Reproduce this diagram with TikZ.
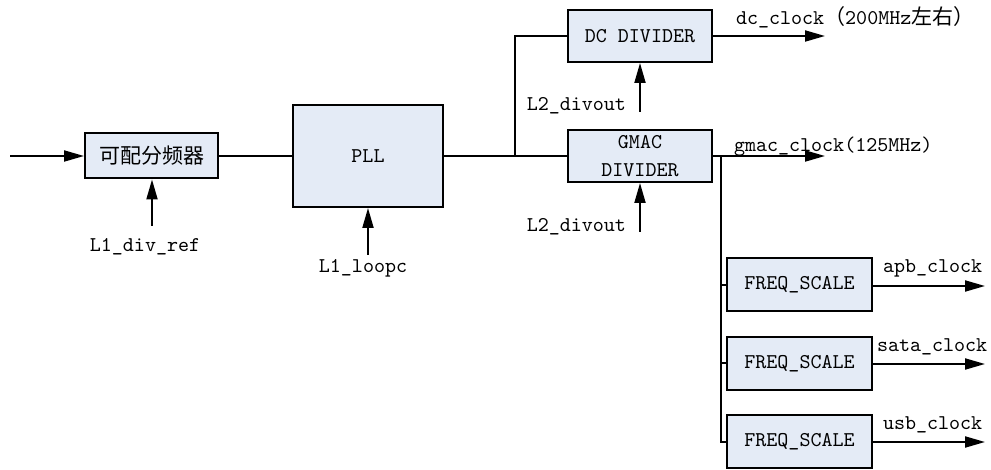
\documentclass[tikz,border=0pt]{standalone}
\usepackage{fontspec}
\newfontfamily\cjk{Noto Sans CJK SC}
\usetikzlibrary{arrows.meta,positioning}
\definecolor{boxfill}{RGB}{228,235,246}

\begin{document}
\begin{tikzpicture}[x=0.5pt, y=-0.5pt, line width=1pt,
			font=\fontsize{10.5}{14}\selectfont\ttfamily,
			block/.style={rectangle, draw, fill=boxfill, inner sep=0pt, align=center},
			fsblock/.style={block, minimum width=72.5pt, minimum height=26.5pt},
			arrow/.style={-{Triangle[length=10pt,width=5.5pt]}},
			lbl/.style={inner sep=0pt}]

			\useasboundingbox (0,0) rectangle (991,470);

			% blocks
			\node[block, minimum width=66.5pt, minimum height=22.5pt] (div) at (151.5,156) {\cjk 可配分频器};
			\node[block, minimum width=75pt, minimum height=51pt] (pll) at (368,156) {PLL};
			\node[block, minimum width=72pt, minimum height=26pt] (dc) at (640,36) {DC DIVIDER};
			\node[block, minimum width=72pt, minimum height=26pt] (gmac) at (640,156) {GMAC\\DIVIDER};
			\node[fsblock] (fs1) at (799.5,285) {FREQ\_SCALE};
			\node[fsblock] (fs2) at (799.5,363.5) {FREQ\_SCALE};
			\node[fsblock] (fs3) at (799.5,441.5) {FREQ\_SCALE};

			% control inputs
			\node[lbl] (divref) at (145,247) {L1\_div\_ref};
			\node[lbl] (loopc) at (363,268) {L1\_loopc};
			\node[lbl, anchor=east] (dcdiv) at (627,106) {L2\_divout};
			\node[lbl, anchor=east] (gmacdiv) at (627,227) {L2\_divout};
			\coordinate (divrefin) at (152,226);
			\coordinate (loopcin) at (368,255);
			\coordinate (dcdivin) at (640,112);
			\coordinate (gmacdivin) at (640,232);

			% outputs
			\coordinate (in) at (10,156);
			\coordinate (jn) at (515,156);
			\coordinate (bus) at (721,156);
			\coordinate (dcout) at (825,36);
			\coordinate (gmacout) at (825,156);
			\coordinate (apbout) at (985,286);
			\coordinate (sataout) at (985,364);
			\coordinate (usbout) at (985,442);
			\node[lbl, anchor=west] (dclbl) at (735,17) {dc\_clock{\cjk （}200MHz{\cjk 左右）}};
			\node[lbl, anchor=west] (gmaclbl) at (733,147) {gmac\_clock(125MHz)};
			\node[lbl, anchor=west] (apblbl) at (882,268) {apb\_clock};
			\node[lbl, anchor=west] (satalbl) at (876,347) {sata\_clock};
			\node[lbl, anchor=west] (usblbl) at (882,425) {usb\_clock};

			\draw[arrow] (in) -- (div);
			\draw (div) -- (pll);
			\draw (pll) -- (gmac);
			\draw (jn) |- (dc.west);
			\draw[arrow] (divrefin) -- (divrefin |- div.south);
			\draw[arrow] (loopcin) -- (pll.south);
			\draw[arrow] (dcdivin) -- (dc.south);
			\draw[arrow] (gmacdivin) -- (gmac.south);
			\draw[arrow] (dc) -- (dcout);
			\draw[arrow] (gmac) -- (gmacout);
			\draw (bus) |- (fs3.west);
			\draw (bus |- fs1) -- (fs1.west);
			\draw (bus |- fs2) -- (fs2.west);
			\draw[arrow] (fs1.east |- apbout) -- (apbout);
			\draw[arrow] (fs2.east |- sataout) -- (sataout);
			\draw[arrow] (fs3.east |- usbout) -- (usbout);
		\end{tikzpicture}
\end{document}
